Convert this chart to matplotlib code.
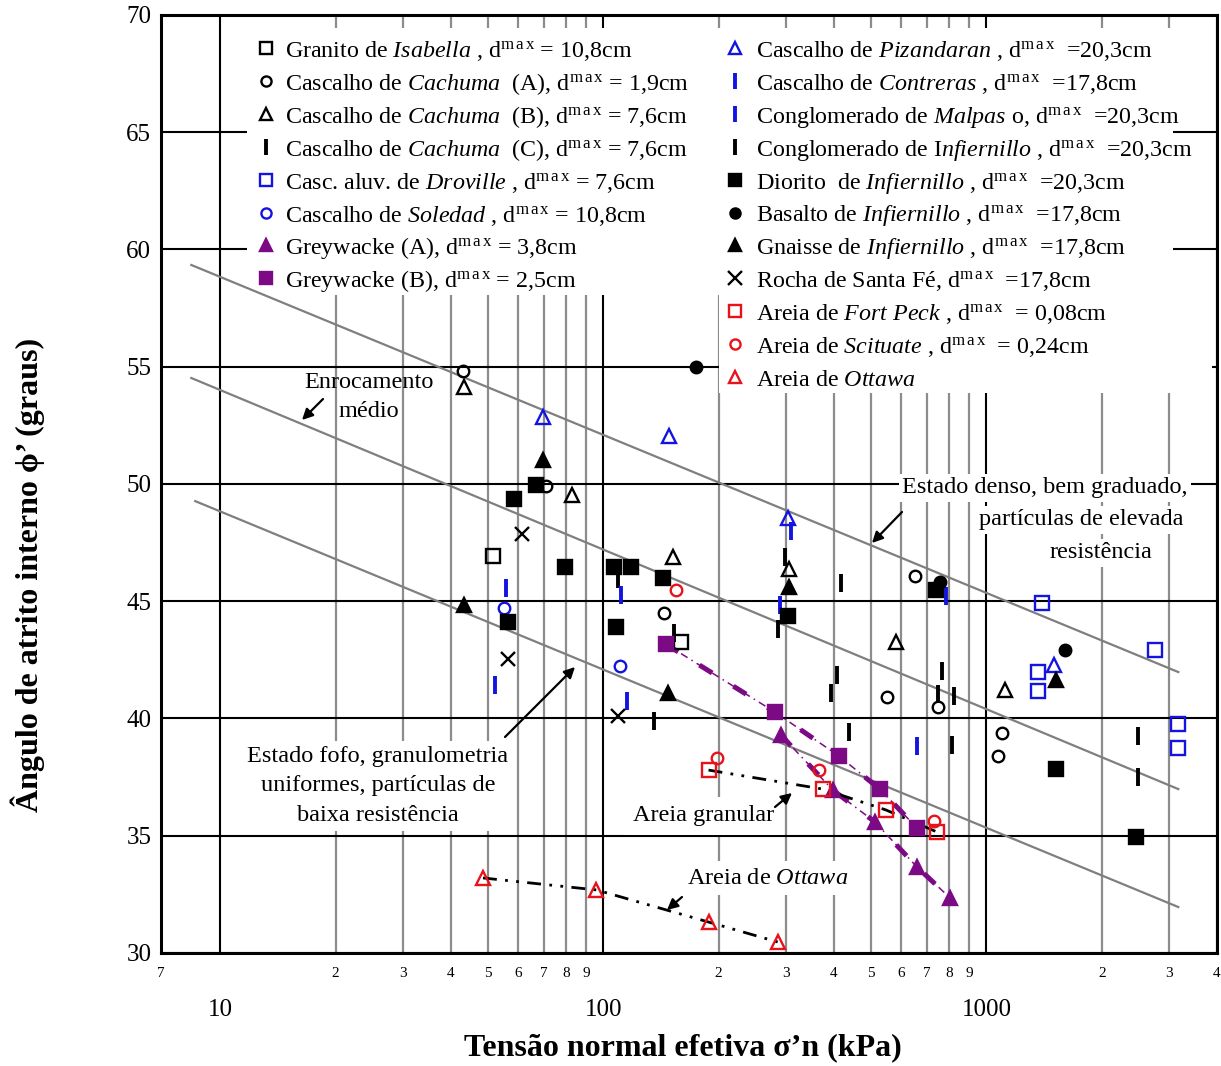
import matplotlib
matplotlib.use("Agg")
import matplotlib.pyplot as plt
from matplotlib.patches import Rectangle

# ---- data (sigma'n in kPa, phi' in degrees) --------------------------------
isabella_x = [51.6, 159.0]
isabella_y = [46.93, 43.26]
cachuma_a_x = [43.1, 71.0, 144.4, 549.6, 651.0, 748.0, 1099, 1073]
cachuma_a_y = [54.82, 49.91, 44.50, 40.92, 46.08, 40.49, 39.38, 38.40]
cachuma_b_x = [43.3, 82.7, 151.7, 304.6, 580, 1119]
cachuma_b_y = [54.14, 49.53, 46.89, 46.38, 43.26, 41.22]
cachuma_c_x = [109.4, 152.5, 135.2, 297.5, 285.2]
cachuma_c_y = [45.95, 43.65, 39.89, 46.89, 43.82]
droville_x = [1398, 2748, 1365, 1365, 3155, 3155]
droville_y = [44.93, 42.92, 41.98, 41.17, 39.77, 38.74]
soledad_x = [55.1, 110.2]
soledad_y = [44.71, 42.24]
greywacke_a_x = [290.4, 397.2, 511.5, 658.7, 803.7]
greywacke_a_y = [39.30, 36.95, 35.59, 33.67, 32.35]
greywacke_b_x = [145.3, 280.1, 412, 527, 658.7]
greywacke_b_y = [43.18, 40.28, 38.40, 36.99, 35.33]
pizandaran_x = [69.7, 148.8, 302.9, 1503]
pizandaran_y = [52.86, 52.05, 48.55, 42.28]
contreras_x = [55.8, 52.2, 111.4, 115.6]
contreras_y = [45.57, 41.43, 45.27, 40.75]
malpaso_x = [308.5, 288.7, 784.6, 658.7]
malpaso_y = [48.0, 44.84, 45.22, 38.83]
cong_inf_x = [416.9, 406.9, 392.6, 437.3, 765.6, 822.9, 812.8, 748.0, 2494, 2494]
cong_inf_y = [45.78, 41.86, 41.09, 39.42, 42.03, 40.96, 38.87, 41.04, 39.25, 37.51]
diorito_x = [66.8, 58.5, 79.5, 106.9, 118.4, 143.5, 108.1, 56.4, 302.9, 738.6, 1522, 2464]
diorito_y = [49.96, 49.36, 46.46, 46.46, 46.46, 45.99, 43.90, 44.12, 44.37, 45.48, 37.85, 34.95]
basalto_x = [174.0, 756.8, 1607]
basalto_y = [54.99, 45.82, 42.92]
gnaisse_x = [69.7, 43.3, 147.9, 304.8, 1522]
gnaisse_y = [51.02, 44.84, 41.09, 45.61, 41.64]
santa_fe_x = [61.4, 56.4, 109.4]
santa_fe_y = [47.87, 42.54, 40.11]
fort_peck_x = [188.2, 374, 546.6, 743]
fort_peck_y = [37.80, 36.99, 36.10, 35.16]
scituate_x = [155.2, 197.5, 365, 730]
scituate_y = [45.48, 38.32, 37.80, 35.63]
ottawa_x = [48.5, 95.9, 188.2, 285.2]
ottawa_y = [33.20, 32.69, 31.32, 30.47]

# envelope lines (dense / medium rockfill / loose)
env_x = [8.4, 3170]
env_dense_y = [59.34, 41.98]
env_medio_y = [54.52, 36.99]
env_fofo_x = [8.6, 3170]
env_fofo_y = [49.27, 31.96]

major_x = [10, 100, 1000]
minor_x = [7, 20, 30, 40, 50, 60, 70, 80, 90, 200, 300, 400, 500, 600, 700, 800, 900,
           2000, 3000, 4000]
minor_lbl = ["7", "2", "3", "4", "5", "6", "7", "8", "9", "2", "3", "4", "5", "6", "7", "8", "9",
             "2", "3", "4"]
yticks = [30, 35, 40, 45, 50, 55, 60, 65, 70]

BLUE = "#1414e0"
RED = "#e8121a"
PURPLE = "#7d0a85"
GRIDGRAY = "#8c8c8c"

MAX = r"d$^{\mathrm{m\,a\,x}}$"

# (label, x, y, marker, color, filled)
left_series = [
    (r"Granito de $\mathit{Isabella}$ , " + MAX + " = 10,8cm", isabella_x, isabella_y, "s", "black", False),
    (r"Cascalho de $\mathit{Cachuma}$  (A), " + MAX + " = 1,9cm", cachuma_a_x, cachuma_a_y, "o", "black", False),
    (r"Cascalho de $\mathit{Cachuma}$  (B), " + MAX + " = 7,6cm", cachuma_b_x, cachuma_b_y, "^", "black", False),
    (r"Cascalho de $\mathit{Cachuma}$  (C), " + MAX + " = 7,6cm", cachuma_c_x, cachuma_c_y, "|", "black", True),
    (r"Casc. aluv. de $\mathit{Droville}$ , " + MAX + " = 7,6cm", droville_x, droville_y, "s", BLUE, False),
    (r"Cascalho de $\mathit{Soledad}$ , " + MAX + " = 10,8cm", soledad_x, soledad_y, "o", BLUE, False),
    ("Greywacke (A), " + MAX + " = 3,8cm", greywacke_a_x, greywacke_a_y, "^", PURPLE, True),
    ("Greywacke (B), " + MAX + " = 2,5cm", greywacke_b_x, greywacke_b_y, "s", PURPLE, True),
]
right_series = [
    (r"Cascalho de $\mathit{Pizandaran}$ , " + MAX + "  =20,3cm", pizandaran_x, pizandaran_y, "^", BLUE, False),
    (r"Cascalho de $\mathit{Contreras}$ , " + MAX + "  =17,8cm", contreras_x, contreras_y, "|", BLUE, True),
    (r"Conglomerado de $\mathit{Malpas}$ o, " + MAX + "  =20,3cm", malpaso_x, malpaso_y, "|", BLUE, True),
    (r"Conglomerado de I$\mathit{nfiernillo}$ , " + MAX + "  =20,3cm", cong_inf_x, cong_inf_y, "|", "black", True),
    (r"Diorito  de $\mathit{Infiernillo}$ , " + MAX + "  =20,3cm", diorito_x, diorito_y, "s", "black", True),
    (r"Basalto de $\mathit{Infiernillo}$ , " + MAX + "  =17,8cm", basalto_x, basalto_y, "o", "black", True),
    (r"Gnaisse de $\mathit{Infiernillo}$ , " + MAX + "  =17,8cm", gnaisse_x, gnaisse_y, "^", "black", True),
    ("Rocha de Santa Fé, " + MAX + "  =17,8cm", santa_fe_x, santa_fe_y, "x", "black", True),
    (r"Areia de $\mathit{Fort\ Peck}$ , " + MAX + "  = 0,08cm", fort_peck_x, fort_peck_y, "s", RED, False),
    (r"Areia de $\mathit{Scituate}$ , " + MAX + "  = 0,24cm", scituate_x, scituate_y, "o", RED, False),
    (r"Areia de $\mathit{Ottawa}$", ottawa_x, ottawa_y, "^", RED, False),
]

plt.rcParams.update({
    "font.family": ["Liberation Serif", "DejaVu Serif"],
    "mathtext.fontset": "custom",
    "mathtext.rm": "Liberation Serif",
    "mathtext.it": "Liberation Serif:italic",
    "mathtext.bf": "Liberation Serif:bold",
})

# pixel layout of the reference
W, H = 1221, 1066
AX_L, AX_R, AX_T, AX_B = 161, 1217, 15, 953


def axf(px, py):
    """Pixel position -> axes fraction."""
    return (px - AX_L) / (AX_R - AX_L), (AX_B - py) / (AX_B - AX_T)


def marker_style(marker, color, filled):
    sizes = {"s": 10.3, "o": 8.3, "^": 10.3, "|": 13.0, "x": 10.5}
    kw = dict(marker=marker, ms=sizes[marker], mec=color, mew=1.7, ls="none")
    if marker == "|":
        kw["mew"] = 2.8
    if filled and marker in "so^":
        kw["mfc"] = color
    else:
        kw["mfc"] = "none"
    return kw


fig = plt.figure(figsize=(W / 100, H / 100), dpi=100)
ax = fig.add_axes([AX_L / W, 1 - AX_B / H, (AX_R - AX_L) / W, (AX_B - AX_T) / H])
ax.set_xscale("log")
ax.set_xlim(7, 4000)
ax.set_ylim(30, 70)
ax.set_axisbelow(True)

ax.set_xticks(major_x, ["10", "100", "1000"])
ax.set_xticks(minor_x, minor_lbl, minor=True)
ax.set_yticks(yticks, [str(v) for v in yticks])
ax.tick_params(axis="x", which="major", length=0, pad=33, labelsize=18)
ax.tick_params(axis="x", which="minor", length=0, pad=10, labelsize=11)
ax.tick_params(axis="y", length=0, pad=7, labelsize=18)
ax.grid(which="major", axis="x", color="black", lw=1.5)
ax.grid(which="minor", axis="x", color=GRIDGRAY, lw=1.6)
ax.grid(which="major", axis="y", color="black", lw=1.5)
for s in ax.spines.values():
    s.set_linewidth(2.2)

# white areas behind the legend columns
for x0, y0, x1, y1 in [(247, 28, 720, 295), (719, 28, 1173, 393), (1173, 300, 1212, 393)]:
    (a0, b1), (a1, b0) = axf(x0, y0), axf(x1, y1)
    ax.add_patch(Rectangle((a0, b0), a1 - a0, b1 - b0, transform=ax.transAxes,
                           fc="white", ec="none", zorder=1))

# envelopes
ax.plot(env_x, env_dense_y, color="#7f7f7f", lw=1.6, zorder=2)
ax.plot(env_x, env_medio_y, color="#7f7f7f", lw=1.6, zorder=2)
ax.plot(env_fofo_x, env_fofo_y, color="#7f7f7f", lw=1.6, zorder=2)

# trend lines through sand / greywacke series
for xs, ys in [(greywacke_b_x, greywacke_b_y), (greywacke_a_x, greywacke_a_y)]:
    ax.plot(xs, ys, color=PURPLE, lw=1.1, dashes=(5, 3, 1, 3), zorder=3)
    ax.plot(xs, ys, color=PURPLE, lw=3.6, dashes=(3, 5), zorder=3)
ax.plot(fort_peck_x, fort_peck_y, color="black", lw=2.0, dashes=(5, 3, 1, 3, 1, 3), zorder=3)
ax.plot(ottawa_x, ottawa_y, color="black", lw=2.0, dashes=(5, 3, 1, 3, 1, 3), zorder=3)

# data + manual legend
for col, (mx, tx) in zip([left_series, right_series], [(266, 285), (735, 756)]):
    for i, (lab, xs, ys, mk, c, filled) in enumerate(col):
        kw = marker_style(mk, c, filled)
        ax.plot(xs, ys, zorder=4, **kw)
        ry = 48 + 32.9 * i
        lkw = dict(kw, ms=kw["ms"] - 1.0)
        ax.plot(*axf(mx, ry), transform=ax.transAxes, zorder=4, clip_on=False, **lkw)
        ax.text(*axf(tx, ry + 9), lab, transform=ax.transAxes, ha="left", va="baseline",
                fontsize=17.3, zorder=5)

# annotations
TXT = dict(transform=ax.transAxes, fontsize=17.5, zorder=5, ha="center", va="center")
WB = dict(fc="white", ec="none")
ax.text(*axf(369, 397), "Enrocamento\nmédio", linespacing=1.5, **TXT)
ax.text(*axf(378, 786), "Estado fofo, granulometria\nuniformes, partículas de\nbaixa resistência",
        linespacing=1.55, bbox=dict(boxstyle="square,pad=0.2", **WB), **TXT)
ax.text(*axf(1045, 488), "Estado denso, bem graduado,", bbox=dict(boxstyle="square,pad=0.15", **WB), **TXT)
ax.text(*axf(1081, 520), "partículas de elevada", bbox=dict(boxstyle="square,pad=0.15", **WB), **TXT)
ax.text(*axf(1101, 553), "resistência", bbox=dict(boxstyle="square,pad=0.15", **WB), **TXT)
ax.text(*axf(704, 816), "Areia granular", bbox=dict(boxstyle="square,pad=0.35", **WB), **TXT)
ax.text(*axf(768, 878), r"Areia de $\mathit{Ottawa}$", bbox=dict(boxstyle="square,pad=0.25", **WB), **TXT)

for (x0, y0), (x1, y1) in [((323, 399), (302, 420)), ((902, 512), (872, 543)),
                           ((505, 737), (575, 667)), ((775, 807), (792, 793)),
                           ((682, 897), (667, 910))]:
    ax.annotate("", xy=axf(x1, y1), xytext=axf(x0, y0), xycoords="axes fraction",
                textcoords="axes fraction", zorder=6,
                arrowprops=dict(arrowstyle="-|>", color="black", lw=1.6,
                                mutation_scale=16, shrinkA=0, shrinkB=0))

fig.text(28 / W, 1 - 575 / H, "Ângulo de atrito interno ϕ’ (graus)", rotation=90,
         ha="center", va="center", fontsize=23, fontweight="bold")
fig.text(683 / W, 1 - 1048 / H, "Tensão normal efetiva σ’n (kPa)",
         ha="center", va="center", fontsize=23, fontweight="bold")

fig.savefig("out.png", dpi=100, facecolor="white")
